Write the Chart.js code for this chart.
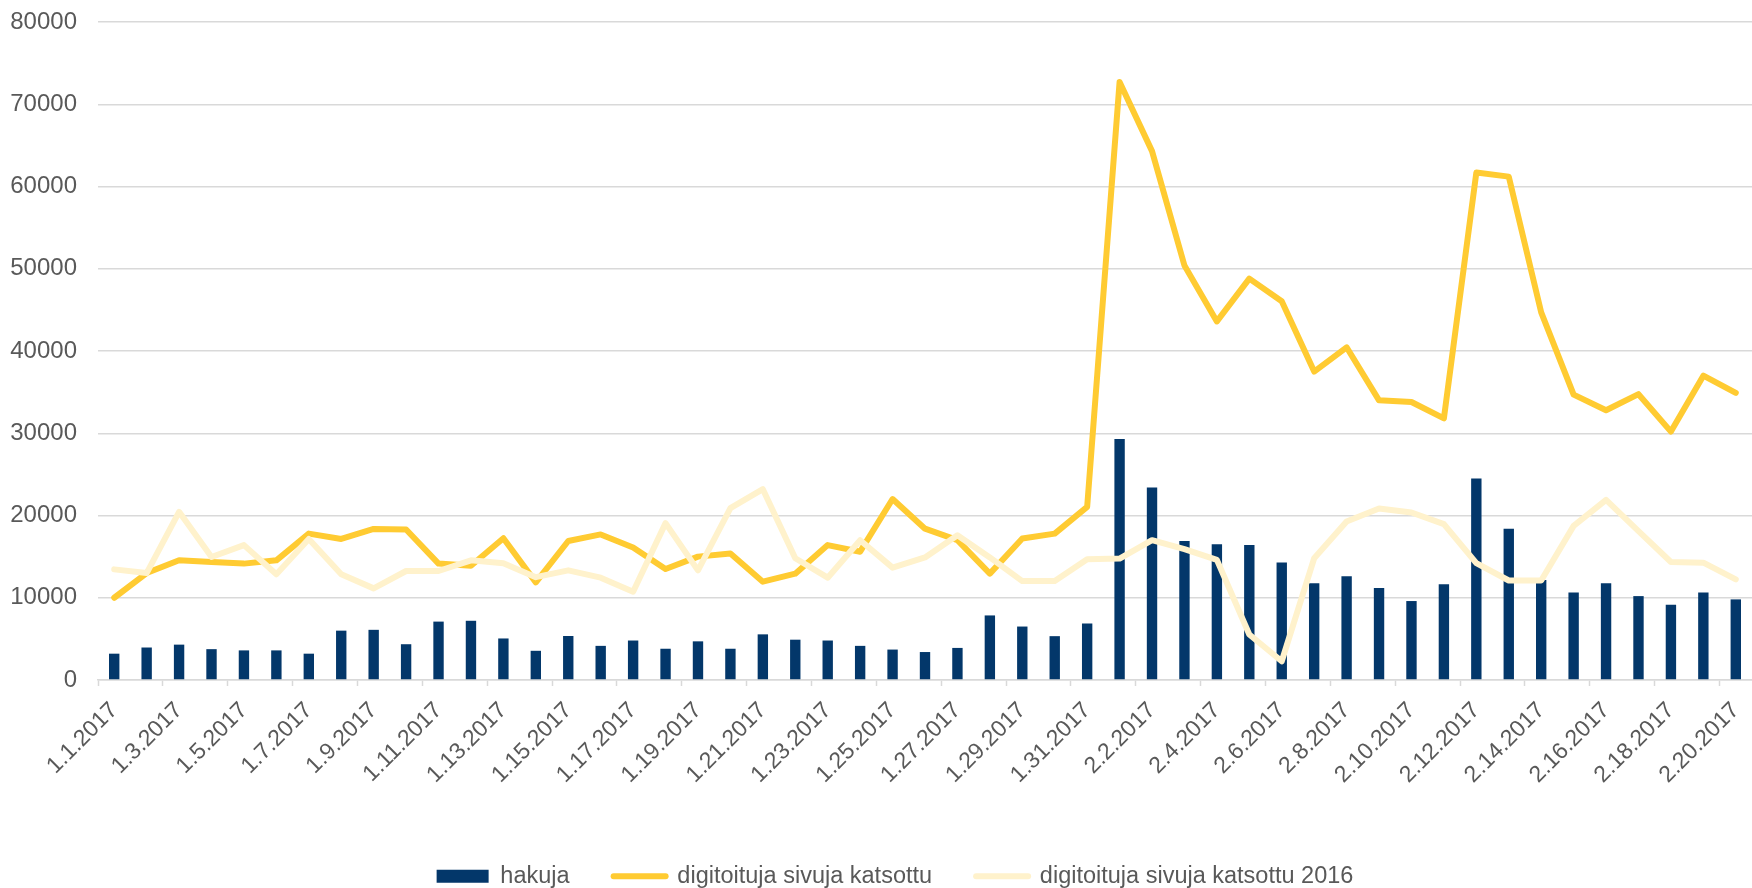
<!DOCTYPE html>
<html lang="fi">
<head>
  <meta charset="UTF-8">
  <title>Hakuja ja digitoituja sivuja</title>
  <script src="https://cdn.jsdelivr.net/npm/chart.js"></script>
  <style>
    body {
      margin: 0;
      background: #ffffff;
    }

    .chart-container {
      width: 1752px;
      height: 888px;
      position: relative;
    }
  </style>
</head>
<body>
  <div class="chart-container">
    <canvas id="comboChart"></canvas>
  </div>

  <script>
    // Päivät (kk.pv.vuosi)
    const dates = [
      "1.1.2017", "1.2.2017", "1.3.2017", "1.4.2017", "1.5.2017", "1.6.2017", "1.7.2017", "1.8.2017",
      "1.9.2017", "1.10.2017", "1.11.2017", "1.12.2017", "1.13.2017", "1.14.2017", "1.15.2017", "1.16.2017",
      "1.17.2017", "1.18.2017", "1.19.2017", "1.20.2017", "1.21.2017", "1.22.2017", "1.23.2017", "1.24.2017",
      "1.25.2017", "1.26.2017", "1.27.2017", "1.28.2017", "1.29.2017", "1.30.2017", "1.31.2017",
      "2.1.2017", "2.2.2017", "2.3.2017", "2.4.2017", "2.5.2017", "2.6.2017", "2.7.2017", "2.8.2017",
      "2.9.2017", "2.10.2017", "2.11.2017", "2.12.2017", "2.13.2017", "2.14.2017", "2.15.2017", "2.16.2017",
      "2.17.2017", "2.18.2017", "2.19.2017", "2.20.2017"
    ];

    const hakuja = [
      3200, 3950, 4300, 3750, 3600, 3600, 3200, 6000, 6100, 4350, 7100, 7200, 5050, 3550, 5350, 4150,
      4800, 3800, 4700, 3800, 5550, 4900, 4800, 4150, 3700, 3400, 3900, 7850, 6500, 5330, 6870,
      29300, 23400, 16900, 16500, 16400, 14300, 11750, 12600, 11200, 9600, 11630, 24500, 18400, 12150,
      10650, 11750, 10200, 9150, 10650, 9800
    ];

    const katsottu = [
      10000, 13000, 14550, 14350, 14150, 14550, 17800, 17150, 18370, 18300, 14150, 13900, 17240, 11870,
      16900, 17700, 16100, 13500, 15000, 15370, 11950, 12930, 16400, 15600, 22000, 18400, 17000, 12930,
      17200, 17800, 21050,
      72700, 64300, 50400, 43600, 48800, 46050, 37500, 40450, 34000, 33800, 31800, 61700, 61200, 44700,
      34700, 32800, 34750, 30200, 37000, 34900
    ];

    const katsottu2016 = [
      13450, 13000, 20450, 14960, 16400, 12850, 17150, 12850, 11140, 13250, 13250, 14550, 14200, 12500,
      13330, 12440, 10730, 19070, 13330, 20900, 23200, 14800, 12440, 17000, 13660, 14900, 17600, 14900,
      12030, 12030, 14670,
      14760, 17000, 15900, 14600, 5530, 2280, 14800, 19270, 20850, 20370, 18950, 14200, 12100, 12100,
      18740, 21900, 18100, 14350, 14270, 12240
    ];

    const yTicks = [0, 10000, 20000, 30000, 40000, 50000, 60000, 70000, 80000];

    const fontFamily = "'Liberation Sans', Arial, sans-serif";
    const textColor = "#595959";
    const gridColor = "#d9d9d9";

    Chart.defaults.font.family = fontFamily;
    Chart.defaults.color = textColor;

    // the legend sits a little right of the canvas centre in the original
    const legendShift = {
      id: "legendShift",
      afterLayout(chart) {
        chart.legend.left += 19;
        chart.legend.right += 19;
      }
    };

    const ctx = document.getElementById("comboChart").getContext("2d");

    new Chart(ctx, {
      data: {
        labels: dates,
        datasets: [
          {
            type: "bar",
            label: "hakuja",
            data: hakuja,
            backgroundColor: "#03376a",
            borderWidth: 0,
            barPercentage: 0.32,
            categoryPercentage: 1,
            order: 3
          },
          {
            type: "line",
            label: "digitoituja sivuja katsottu",
            data: katsottu,
            borderColor: "#ffcb32",
            backgroundColor: "#ffcb32",
            borderWidth: 6,
            borderJoinStyle: "round",
            borderCapStyle: "round",
            pointRadius: 0,
            tension: 0,
            order: 2
          },
          {
            type: "line",
            label: "digitoituja sivuja katsottu 2016",
            data: katsottu2016,
            borderColor: "#fff2cc",
            backgroundColor: "#fff2cc",
            borderWidth: 6,
            borderJoinStyle: "round",
            borderCapStyle: "round",
            pointRadius: 0,
            tension: 0,
            order: 1
          }
        ]
      },
      plugins: [legendShift],
      options: {
        responsive: true,
        maintainAspectRatio: false,
        animation: false,
        layout: {
          padding: { top: 22, left: 0, right: 0, bottom: -10 }
        },
        plugins: {
          tooltip: { enabled: false },
          legend: {
            position: "bottom",
            labels: {
              font: { size: 23.5 },
              color: textColor,
              usePointStyle: true,
              pointStyleWidth: 52,
              boxHeight: 13,
              padding: 44,
              sort: (a, b) => a.datasetIndex - b.datasetIndex,
              generateLabels: (chart) => {
                const items = Chart.defaults.plugins.legend.labels.generateLabels(chart);
                items.forEach(item => {
                  const ds = chart.data.datasets[item.datasetIndex];
                  if (ds.type === "line") {
                    item.pointStyle = "line";
                    item.strokeStyle = ds.borderColor;
                    item.lineWidth = 6;
                    item.lineCap = "round";
                  } else {
                    item.pointStyle = "rect";
                    item.lineWidth = 0;
                  }
                });
                return items;
              }
            }
          }
        },
        scales: {
          x: {
            offset: true,
            afterFit: (scale) => {
              scale.height = 140.5;
              scale.paddingLeft = 0;
              scale.paddingRight = 0;
            },
            border: { color: gridColor, width: 1.5 },
            grid: {
              offset: true,
              drawOnChartArea: false,
              drawTicks: true,
              tickLength: 6,
              tickWidth: 1.5,
              tickColor: (c) => (c.index % 2 === 0 ? gridColor : "rgba(0,0,0,0)")
            },
            ticks: {
              autoSkip: false,
              maxRotation: 45,
              minRotation: 45,
              padding: 11,
              font: { size: 23 },
              color: textColor,
              callback: function (value, index) {
                return index % 2 === 0 ? dates[index] : "";
              }
            }
          },
          y: {
            min: yTicks[0],
            max: yTicks[yTicks.length - 1],
            afterFit: (scale) => {
              scale.width = 98;
              scale.paddingTop = 0;
              scale.paddingBottom = 0;
            },
            afterBuildTicks: (scale) => {
              scale.ticks = yTicks.map(v => ({ value: v }));
            },
            border: { display: false },
            grid: {
              color: gridColor,
              lineWidth: 1.5,
              drawTicks: false
            },
            ticks: {
              padding: 21,
              font: { size: 24 },
              color: textColor,
              callback: (value) => String(value)
            }
          }
        }
      }
    });
  </script>
</body>
</html>
